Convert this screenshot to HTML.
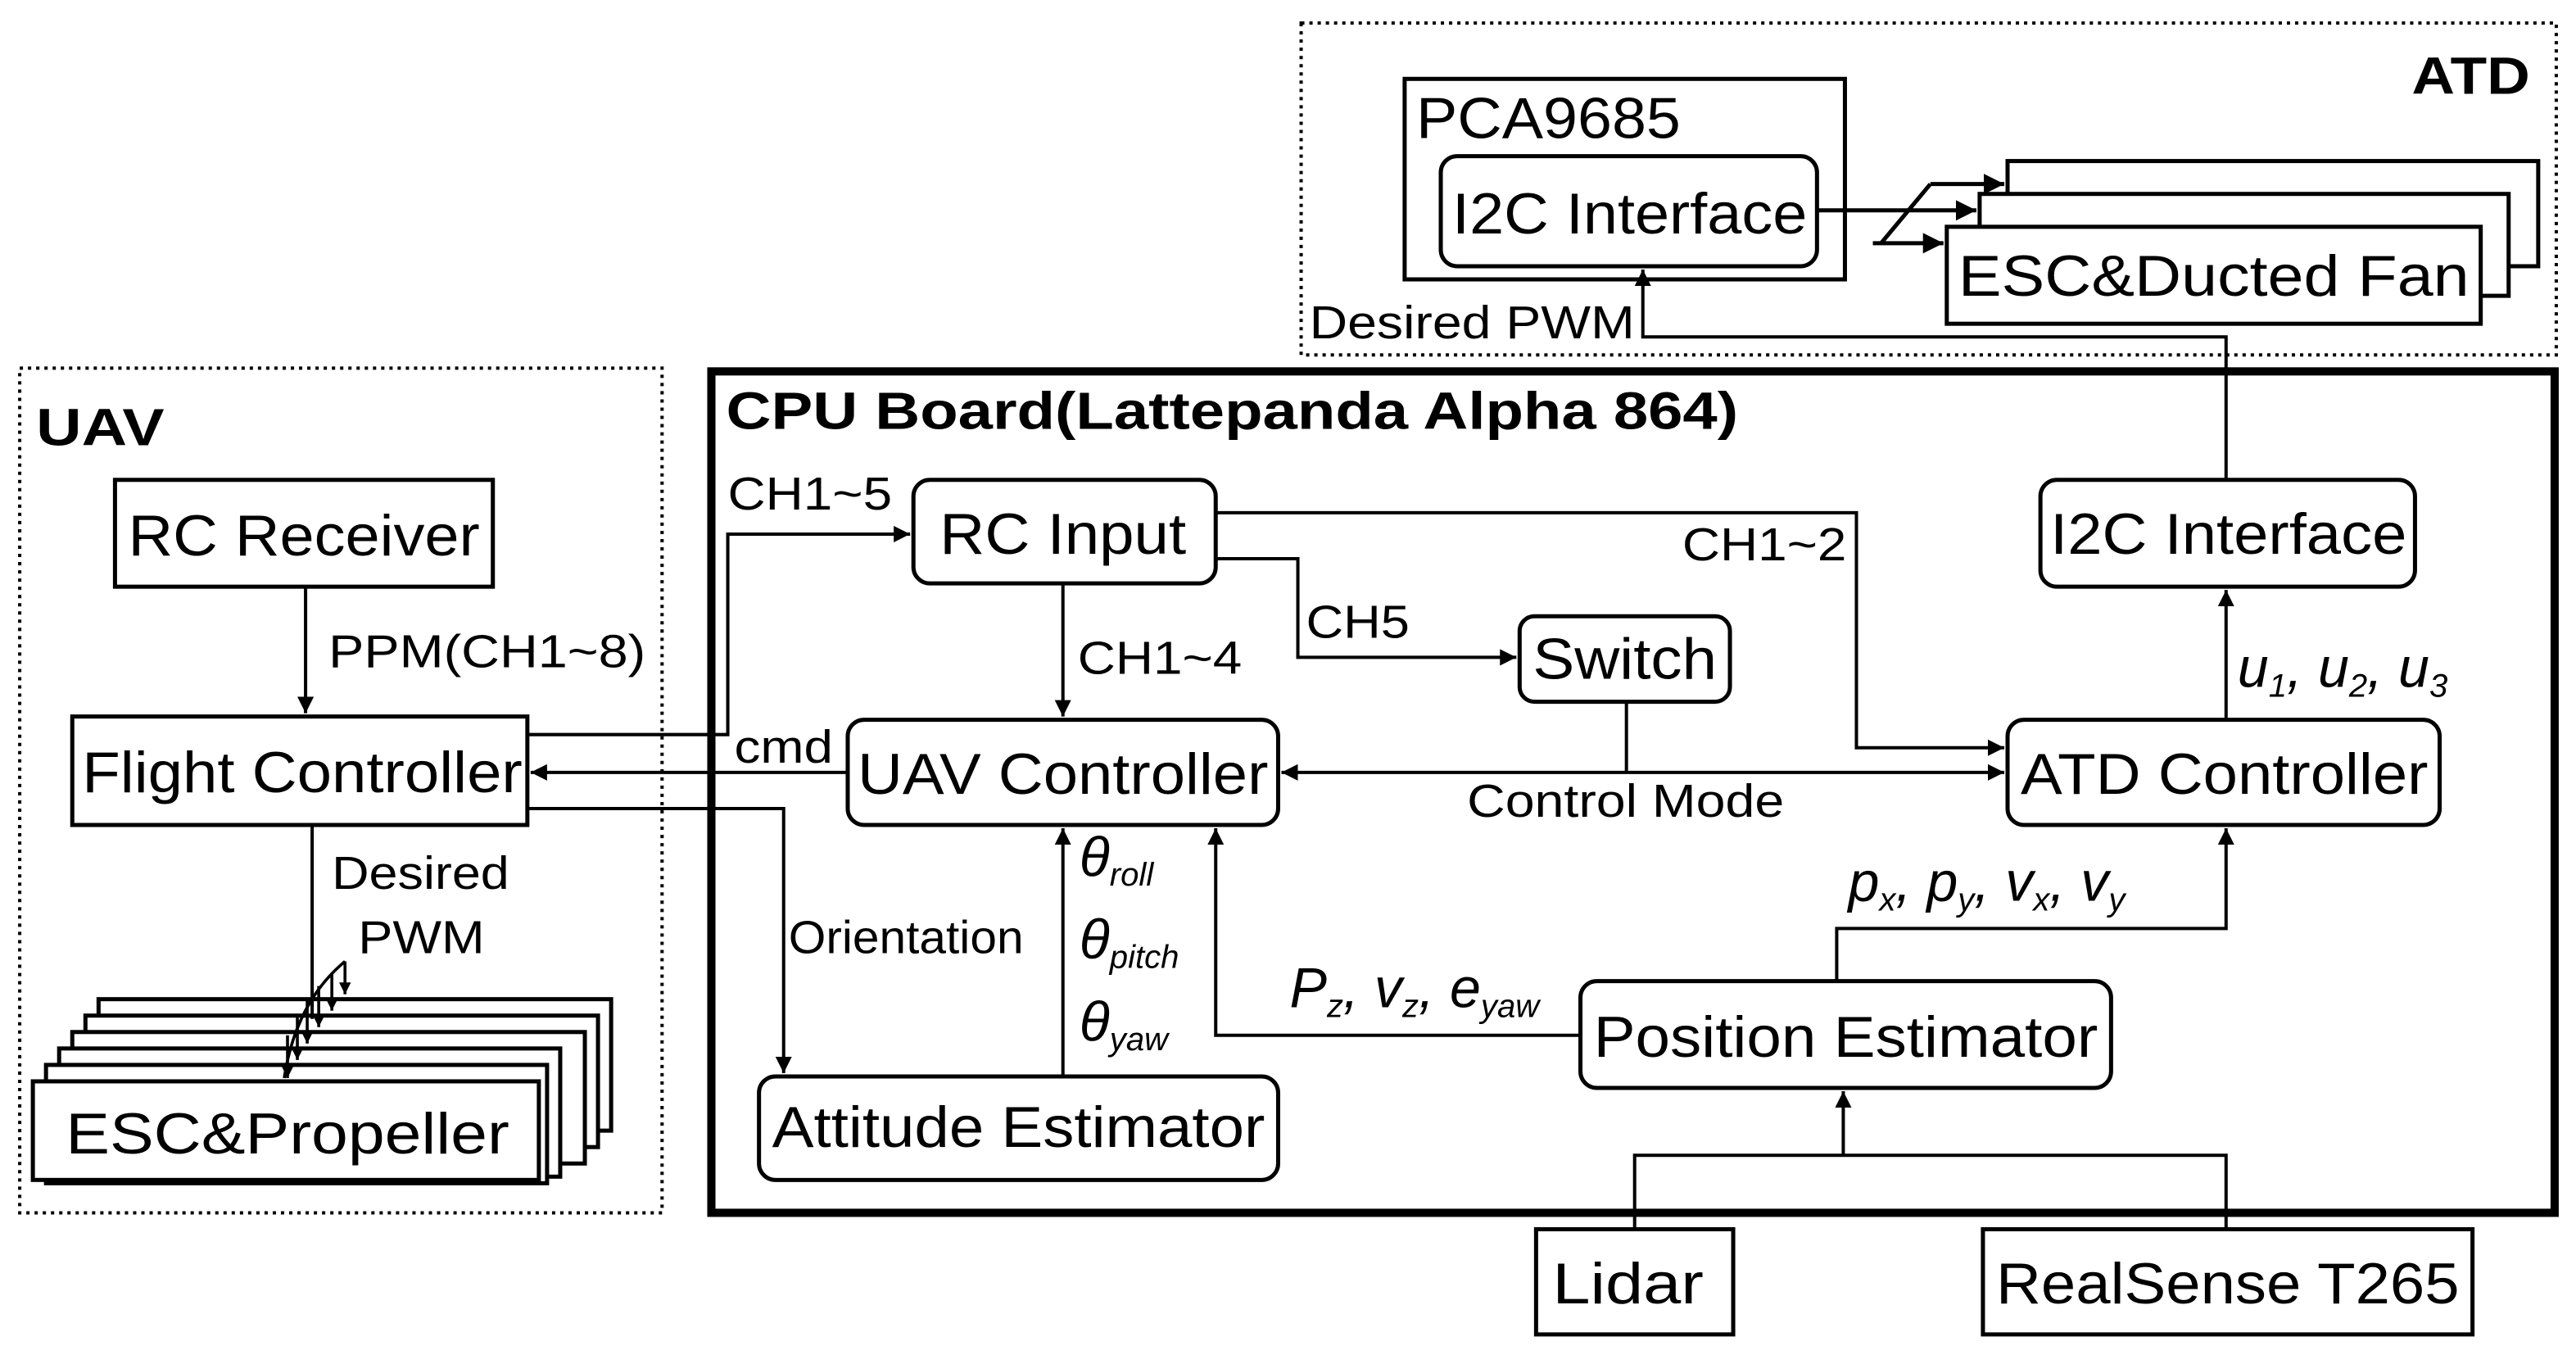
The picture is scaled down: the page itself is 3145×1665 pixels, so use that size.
<!DOCTYPE html>
<html><head><meta charset="utf-8"><style>
html,body{margin:0;padding:0;background:#fff}
svg{display:block}
text{font-family:"Liberation Sans",Arial,sans-serif;fill:#000}
.m{font-family:"Liberation Serif",serif;font-style:italic}
</style></head><body>
<svg width="3145" height="1665" viewBox="0 0 1568 830" preserveAspectRatio="none" xmlns="http://www.w3.org/2000/svg">
<defs>
<marker id="a" viewBox="0 0 10 10" refX="10" refY="5" markerWidth="5" markerHeight="5" orient="auto-start-reverse"><path d="M0,0 L10,5 L0,10 z" fill="#000"/></marker>
<marker id="s" viewBox="0 0 10 10" refX="10" refY="5" markerWidth="4" markerHeight="4" orient="auto"><path d="M0,0 L10,5 L0,10 z" fill="#000"/></marker>
</defs>
<g fill="none" stroke="#000">
<rect x="12" y="224" width="391" height="514" stroke-width="2" stroke-dasharray="2,3"/>
<rect x="792" y="14" width="764" height="202" stroke-width="2" stroke-dasharray="2,3"/>
<rect x="433" y="226" width="1122" height="512" stroke-width="5"/>
<g stroke-width="2.5">
<rect x="70" y="292" width="230" height="65"/>
<rect x="44" y="436" width="277" height="66"/>
<rect x="60" y="608" width="312" height="80" fill="#fff"/>
<rect x="52" y="618" width="312" height="80" fill="#fff"/>
<rect x="44" y="628" width="312" height="80" fill="#fff"/>
<rect x="36" y="638" width="305" height="78" fill="#fff"/>
<rect x="28" y="648" width="305" height="72" fill="#fff"/>
<rect x="20" y="658" width="308" height="60" fill="#fff"/>
<rect x="556" y="292" width="184" height="63" rx="10"/>
<rect x="925" y="375" width="128" height="52" rx="9"/>
<rect x="516" y="438" width="262" height="64" rx="10"/>
<rect x="1222" y="438" width="263" height="64" rx="10"/>
<rect x="1242" y="292" width="228" height="65" rx="10"/>
<rect x="462" y="655" width="316" height="63" rx="10"/>
<rect x="962" y="597" width="323" height="65" rx="10"/>
<rect x="935" y="748" width="120" height="64"/>
<rect x="1207" y="748" width="298" height="64"/>
<rect x="855" y="48" width="268" height="122"/>
<rect x="877" y="95" width="229" height="67" rx="10"/>
<rect x="1222" y="98" width="323" height="64" fill="#fff"/>
<rect x="1205" y="118" width="322" height="62" fill="#fff"/>
<rect x="1185" y="138" width="325" height="59" fill="#fff"/>
</g>
<g stroke-width="2">
<path d="M186,357 V434" marker-end="url(#a)"/>
<path d="M321,447 H443 V325 H554" marker-end="url(#a)"/>
<path d="M516,470 H323" marker-end="url(#a)"/>
<path d="M321,492 H477 V653" marker-end="url(#a)"/>
<path d="M190,502 V620"/>
<g stroke-width="1.8">
<path d="M210,585 Q180,610 173,656"/>
<path d="M210,585 V605" marker-end="url(#s)"/>
<path d="M202,592 V615" marker-end="url(#s)"/>
<path d="M194,600 V625" marker-end="url(#s)"/>
<path d="M187,608 V635" marker-end="url(#s)"/>
<path d="M181,618 V645" marker-end="url(#s)"/>
<path d="M175,630 V656" marker-end="url(#s)"/>
</g>
<path d="M647,355 V436" marker-end="url(#a)"/>
<path d="M740,312 H1130 V455 H1220" marker-end="url(#a)"/>
<path d="M740,340 H790 V400 H923" marker-end="url(#a)"/>
<path d="M990,427 V470"/>
<path d="M780,470 H1220" marker-start="url(#a)" marker-end="url(#a)"/>
<path d="M1355,438 V359" marker-end="url(#a)"/>
<path d="M1355,292 V205 H1000 V164" marker-end="url(#a)"/>
<path d="M647,655 V504" marker-end="url(#a)"/>
<path d="M962,630 H740 V504" marker-end="url(#a)"/>
<path d="M1118,597 V565 H1355 V504" marker-end="url(#a)"/>
<path d="M995,748 V703 H1355 V748"/>
<path d="M1122,703 V664" marker-end="url(#a)"/>
<path d="M1106,128 H1203" marker-end="url(#a)" stroke-width="2.5"/>
<path d="M1175,112 H1220" marker-end="url(#a)" stroke-width="2.5"/>
<path d="M1175,112 L1145,148" stroke-width="2.5"/>
<path d="M1140,148 H1183" marker-end="url(#a)" stroke-width="2.5"/>
</g>
</g>
<g font-weight="bold" font-size="32">
<text x="22" y="271" textLength="78" lengthAdjust="spacingAndGlyphs">UAV</text>
<text x="442" y="261" textLength="616" lengthAdjust="spacingAndGlyphs">CPU Board(Lattepanda Alpha 864)</text>
<text x="1468" y="57" textLength="72" lengthAdjust="spacingAndGlyphs">ATD</text>
</g>
<g font-size="35">
<text x="78" y="338" textLength="214" lengthAdjust="spacingAndGlyphs">RC Receiver</text>
<text x="50" y="482" textLength="268" lengthAdjust="spacingAndGlyphs">Flight Controller</text>
<text x="40" y="702" textLength="270" lengthAdjust="spacingAndGlyphs">ESC&amp;Propeller</text>
<text x="572" y="337" textLength="150" lengthAdjust="spacingAndGlyphs">RC Input</text>
<text x="933" y="413" textLength="112" lengthAdjust="spacingAndGlyphs">Switch</text>
<text x="522" y="483" textLength="250" lengthAdjust="spacingAndGlyphs">UAV Controller</text>
<text x="1230" y="483" textLength="248" lengthAdjust="spacingAndGlyphs">ATD Controller</text>
<text x="1248" y="337" textLength="217" lengthAdjust="spacingAndGlyphs">I2C Interface</text>
<text x="470" y="698" textLength="300" lengthAdjust="spacingAndGlyphs">Attitude Estimator</text>
<text x="970" y="643" textLength="307" lengthAdjust="spacingAndGlyphs">Position Estimator</text>
<text x="945" y="793" textLength="92" lengthAdjust="spacingAndGlyphs">Lidar</text>
<text x="1215" y="793" textLength="282" lengthAdjust="spacingAndGlyphs">RealSense T265</text>
<text x="862" y="84" textLength="161" lengthAdjust="spacingAndGlyphs">PCA9685</text>
<text x="884" y="142" textLength="216" lengthAdjust="spacingAndGlyphs">I2C Interface</text>
<text x="1192" y="180" textLength="311" lengthAdjust="spacingAndGlyphs">ESC&amp;Ducted Fan</text>
</g>
<g font-size="28">
<text x="200" y="406" textLength="193" lengthAdjust="spacingAndGlyphs">PPM(CH1~8)</text>
<text x="443" y="310" textLength="100" lengthAdjust="spacingAndGlyphs">CH1~5</text>
<text x="447" y="464" textLength="60" lengthAdjust="spacingAndGlyphs">cmd</text>
<text x="480" y="580" textLength="143" lengthAdjust="spacingAndGlyphs">Orientation</text>
<text x="202" y="541" textLength="108" lengthAdjust="spacingAndGlyphs">Desired</text>
<text x="218" y="580" textLength="77" lengthAdjust="spacingAndGlyphs">PWM</text>
<text x="656" y="410" textLength="100" lengthAdjust="spacingAndGlyphs">CH1~4</text>
<text x="1024" y="341" textLength="100" lengthAdjust="spacingAndGlyphs">CH1~2</text>
<text x="795" y="388" textLength="63" lengthAdjust="spacingAndGlyphs">CH5</text>
<text x="893" y="497" textLength="193" lengthAdjust="spacingAndGlyphs">Control Mode</text>
<text x="797" y="206" textLength="198" lengthAdjust="spacingAndGlyphs">Desired PWM</text>
</g>
<g class="m" font-size="34">
<text x="1362" y="418">u<tspan font-size="20" dy="6">1</tspan><tspan dy="-6">, u</tspan><tspan font-size="20" dy="6">2</tspan><tspan dy="-6">, u</tspan><tspan font-size="20" dy="6">3</tspan></text>
<text x="1125" y="548">p<tspan font-size="20" dy="6">x</tspan><tspan dy="-6">, p</tspan><tspan font-size="20" dy="6">y</tspan><tspan dy="-6">, v</tspan><tspan font-size="20" dy="6">x</tspan><tspan dy="-6">, v</tspan><tspan font-size="20" dy="6">y</tspan></text>
<text x="785" y="613">P<tspan font-size="20" dy="6">z</tspan><tspan dy="-6">, v</tspan><tspan font-size="20" dy="6">z</tspan><tspan dy="-6">, e</tspan><tspan font-size="20" dy="6">yaw</tspan></text>
<text x="657" y="533">θ<tspan font-size="20" dy="6">roll</tspan></text>
<text x="657" y="583">θ<tspan font-size="20" dy="6">pitch</tspan></text>
<text x="657" y="633">θ<tspan font-size="20" dy="6">yaw</tspan></text>
</g>
</svg>
</body></html>
